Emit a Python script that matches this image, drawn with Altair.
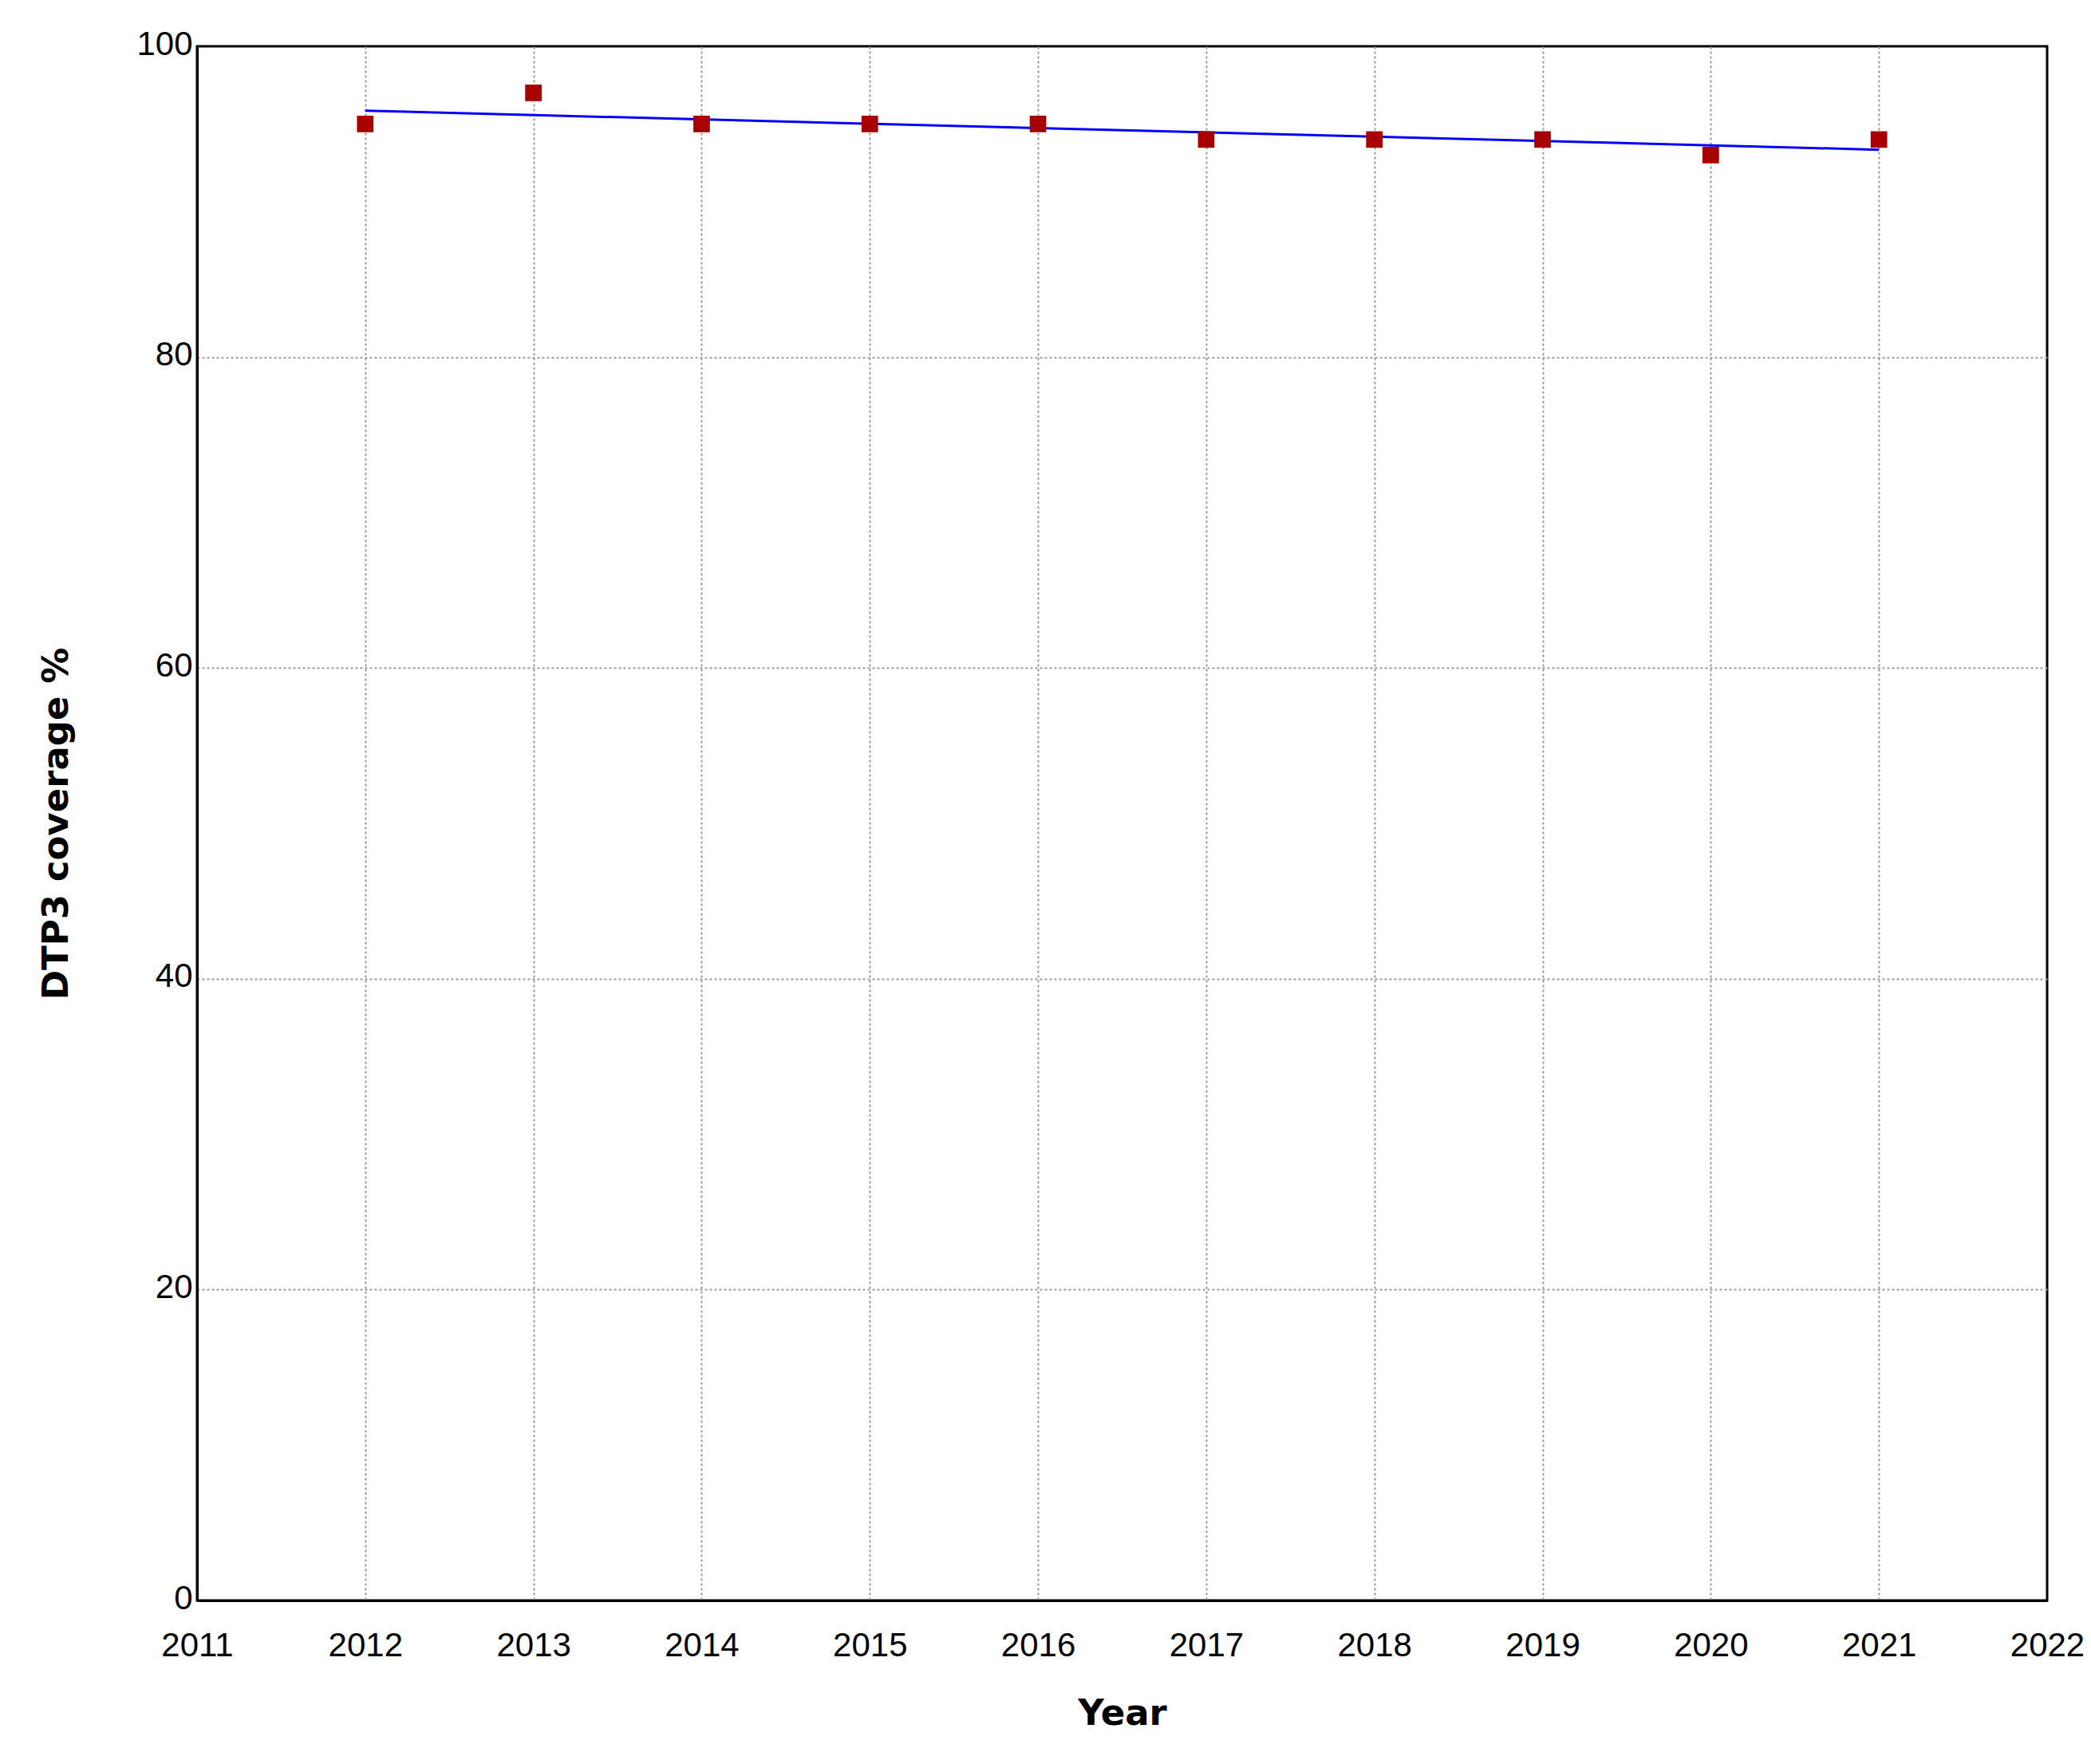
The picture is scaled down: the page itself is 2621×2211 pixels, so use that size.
import altair as alt
import pandas as pd

years = [2012, 2013, 2014, 2015, 2016, 2017, 2018, 2019, 2020, 2021]
coverage = [95, 97, 95, 95, 95, 94, 94, 94, 93, 94]
x_ticks = list(range(2011, 2023))
y_ticks = [0, 20, 40, 60, 80, 100]

df = pd.DataFrame({"Year": years, "Coverage": coverage})

W, H = 2319, 1948
LABEL_FONT = "Liberation Sans Narrow, Liberation Sans, Arial, sans-serif"
TITLE_FONT = "DejaVu Sans, Verdana, sans-serif"

x_grid_op = alt.condition("datum.value == 2011 || datum.value == 2022",
                          alt.value(0), alt.value(1))
y_grid_op = alt.condition("datum.value == 0 || datum.value == 100",
                          alt.value(0), alt.value(1))

x_enc = alt.X(
    "Year:Q",
    scale=alt.Scale(domain=[2011, 2022], nice=False, zero=False),
    axis=alt.Axis(
        values=x_ticks, format="d", title="Year",
        labelFont=LABEL_FONT, labelFontSize=42, labelColor="black",
        labelFlush=False, labelOverlap=False, labelPadding=36,
        labelBaseline="top",
        ticks=False, domain=True, domainColor="black", domainWidth=3,
        grid=True, gridColor="#9a9a9a", gridDash=[3, 3], gridWidth=2,
        gridOpacity=x_grid_op,
        titleFont=TITLE_FONT, titleFontSize=45, titleFontWeight="bold",
        titleColor="black", titleX=W / 2, titleY=141,
        titleBaseline="middle", titleAlign="center",
    ),
)
y_enc = alt.Y(
    "Coverage:Q",
    scale=alt.Scale(domain=[0, 100], nice=False),
    axis=alt.Axis(
        values=y_ticks, title="DTP3 coverage %",
        labelFont=LABEL_FONT, labelFontSize=42, labelColor="black",
        labelPadding=6, labelBaseline="middle", labelOffset=-3,
        labelFlush=False, labelOverlap=False,
        ticks=False, domain=True, domainColor="black", domainWidth=3,
        grid=True, gridColor="#9a9a9a", gridDash=[3, 3], gridWidth=2,
        gridOpacity=y_grid_op,
        titleFont=TITLE_FONT, titleFontSize=45, titleFontWeight="bold",
        titleColor="black", titleX=-177, titleY=H / 2,
        titleBaseline="middle", titleAlign="center", titleAngle=-90,
    ),
)

base = alt.Chart(df)

trend = base.transform_regression("Year", "Coverage").mark_line(
    color="#0000ff", strokeWidth=3
).encode(x=x_enc, y=y_enc)

points = base.mark_square(color="#a80000", size=430, opacity=1).encode(
    x=x_enc, y=y_enc
)

chart = (
    alt.layer(trend, points)
    .properties(
        width=W, height=H,
        background="white",
        autosize=alt.AutoSizeParams(type="none"),
        padding={"left": 239, "top": 50, "right": 47, "bottom": 190},
    )
    .configure_view(stroke="black", strokeWidth=3)
)

chart.save("out.html", embed_options={"renderer": "svg", "actions": False})
